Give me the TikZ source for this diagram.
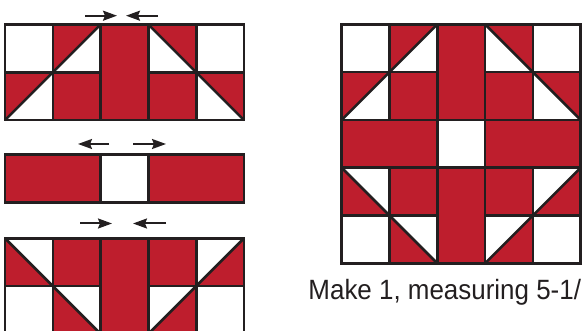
\documentclass[tikz,border=0pt]{standalone}
\usepackage{fontspec}
\setmainfont{Liberation Sans}
\usetikzlibrary{arrows.meta}
\definecolor{quiltred}{HTML}{BE1E2D}
\definecolor{ink}{HTML}{231F20}

\begin{document}
\begin{tikzpicture}[x=47.8bp, y=47.8bp,
    seam/.style={draw=ink, line width=2.6bp},
    press/.style={ink, line width=2bp, -{Stealth[length=14bp,width=10bp,inset=2bp]}},
    every node/.style={font=\fontsize{28}{30}\selectfont, text=ink}]
  \useasboundingbox (0,0) rectangle (582bp,331bp);

  % Flying geese halves (top and mirrored bottom)
  \foreach \sx/\sy/\ys in {5/210.9/1, 5/92.7/-1, 341.7/211.1/1, 341.7/163.3/-1}{
    \begin{scope}[shift={(\sx bp,\sy bp)}, yscale=\ys]
      \fill[quiltred] (2,0) rectangle (3,2);
      \fill[quiltred] (1,0) rectangle (2,1);
      \fill[quiltred] (3,0) rectangle (4,1);
      \fill[quiltred] (0,0) -- (0,1) -- (1,1) -- cycle;
      \fill[quiltred] (5,0) -- (5,1) -- (4,1) -- cycle;
      \fill[quiltred] (1,1) -- (1,2) -- (2,2) -- cycle;
      \fill[quiltred] (4,1) -- (4,2) -- (3,2) -- cycle;
      \foreach \x in {1,...,4}{
        \draw[seam] (\x,0) -- (\x,2);
      }
      \draw[seam] (0,1) -- (2,1) (3,1) -- (5,1);
      \draw[seam] (0,0) -- (2,2) (3,2) -- (5,0);
      \draw[seam] (0,0) rectangle (5,2);
    \end{scope}
  }

  % Centre strips
  \foreach \sx/\sy in {5/128.7, 341.7/163.3}{
    \begin{scope}[shift={(\sx bp,\sy bp)}]
      \fill[quiltred] (0,0) rectangle (2,1);
      \fill[quiltred] (3,0) rectangle (5,1);
      \draw[seam] (2,0) -- (2,1) (3,0) -- (3,1);
      \draw[seam] (0,0) rectangle (5,1);
    \end{scope}
  }

  % Pressing arrows
  \draw[press] (85bp,315.3bp) -- (117bp,315.3bp);
  \draw[press] (158bp,315.3bp) -- (126bp,315.3bp);
  \draw[press] (109bp,187bp) -- (78bp,187bp);
  \draw[press] (133bp,187bp) -- (166bp,187bp);
  \draw[press] (80bp,107.5bp) -- (112bp,107.5bp);
  \draw[press] (166bp,107.5bp) -- (133bp,107.5bp);

  \node[anchor=base west, inner sep=0pt, xscale=0.93] (makeone) at (308.3bp,31.7bp)
    {Make 1, measuring 5-1/};
\end{tikzpicture}
\end{document}
